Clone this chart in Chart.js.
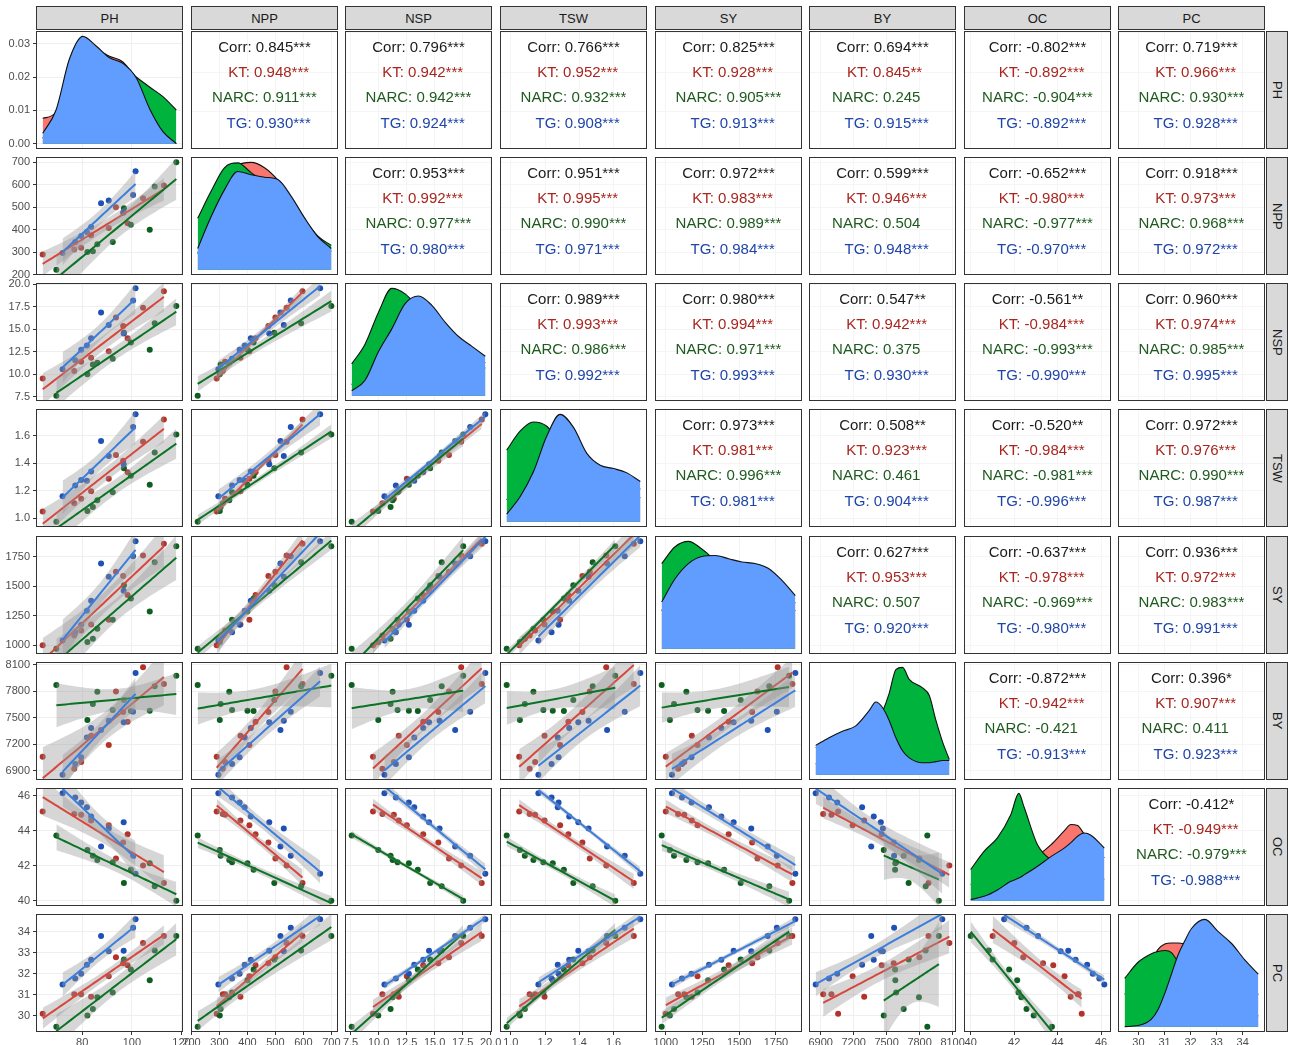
<!DOCTYPE html>
<html>
<head>
<meta charset="utf-8">
<title>Pairs plot</title>
<script src="https://cdn.jsdelivr.net/npm/chart.js@4.4.1/dist/chart.umd.min.js"></script>
<style>
html,body{margin:0;padding:0;background:#fff;}
body{position:relative;width:1290px;height:1045px;overflow:hidden;font-family:"Liberation Sans",Arial,sans-serif;}
.strip{position:absolute;box-sizing:border-box;background:#D9D9D9;border:1px solid #333;color:#1a1a1a;font-size:13px;display:flex;align-items:center;justify-content:center;}
.strip.v{writing-mode:vertical-rl;}
.frame{position:absolute;box-sizing:border-box;border:1px solid #333;pointer-events:none;z-index:10;}
canvas{position:absolute;display:block;}
</style>
</head>
<body>
<script>
// ---------------- DATA ----------------
const VARS = ['PH','NPP','NSP','TSW','SY','BY','OC','PC'];
const GROUPS = ['KT','NARC','TG'];

// KT observations
const PH_KT  = [64.1, 76.8, 79.6, 83.6, 90.7, 93.6, 96.5, 98.3, 104.5, 112.9];
const NPP_KT = [290, 312, 320, 375, 407, 500, 475, 429, 540, 597];
const NSP_KT = [9.50, 10.34, 11.36, 11.80, 12.52, 16.28, 15.33, 13.98, 17.37, 19.20];
const TSW_KT = [1.049, 1.110, 1.142, 1.197, 1.288, 1.461, 1.418, 1.336, 1.557, 1.718];
const SY_KT  = [1000, 1084, 1126, 1177, 1216, 1624, 1588, 1428, 1762, 1862];
const BY_KT  = [7059, 6923, 6998, 7296, 7191, 7798, 7564, 7455, 8070, 7881];
const OC_KT  = [45.11, 44.96, 44.93, 44.60, 44.32, 42.42, 43.33, 43.80, 42.01, 41.01];
const PC_KT  = [30.09, 31.02, 31.02, 30.90, 31.88, 32.79, 32.50, 32.40, 33.47, 33.81];

// NARC observations
const PH_NARC  = [69.6, 82.1, 84.3, 86.1, 92.3, 96.8, 99.6, 107.2, 109.2, 117.9];
const NPP_NARC = [222, 301, 304, 335, 345, 496, 422, 400, 592, 700];
const NSP_NARC = [7.60, 9.97, 11.07, 11.25, 11.69, 14.60, 13.50, 12.70, 15.63, 17.55];
const TSW_NARC = [0.976, 1.053, 1.082, 1.132, 1.190, 1.365, 1.310, 1.245, 1.478, 1.610];
const SY_NARC  = [972, 1028, 1056, 1140, 1216, 1510, 1397, 1288, 1705, 1840];
const BY_NARC  = [7870, 7474, 7655, 7794, 7587, 7700, 7577, 7579, 7855, 7975];
const OC_NARC  = [43.74, 42.90, 42.57, 42.33, 42.20, 41.01, 41.77, 42.14, 40.83, 40.00];
const PC_NARC  = [29.47, 30.00, 30.31, 30.88, 31.10, 32.68, 32.20, 31.69, 33.11, 33.81];

// TG observations
const PH_TG  = [72.1, 77.2, 79.6, 81.9, 83.6, 87.6, 90.7, 96.7, 100.5, 101.5];
const NPP_TG = [296, 345, 372, 390, 412, 518, 530, 478, 555, 660];
const NSP_TG = [10.52, 11.54, 12.70, 13.18, 13.98, 16.83, 15.44, 14.50, 18.17, 19.52];
const TSW_TG = [1.161, 1.238, 1.279, 1.274, 1.341, 1.562, 1.454, 1.394, 1.665, 1.756];
const SY_TG  = [1042, 1110, 1175, 1294, 1378, 1694, 1582, 1462, 1756, 1882];
const BY_TG  = [6855, 6976, 7051, 7277, 7383, 7360, 7466, 7447, 7568, 8006];
const OC_TG  = [46.15, 45.92, 45.62, 45.36, 44.83, 43.10, 44.14, 44.49, 42.57, 41.54];
const PC_TG  = [31.49, 31.77, 32.00, 32.43, 32.67, 33.81, 33.07, 33.10, 34.20, 34.60];

// Diagonal density curves.
// densAt_* = position along the variable's data range (0 = min, 1 = max).
// PH values are in density units (axis shown); the others are relative heights.
const densAt_PH = [0,0.1,0.2,0.3,0.4,0.5,0.6,0.7,0.8,0.9,1];
const dens_PH_KT   = [0.0076,0.0095,0.0250,0.0310,0.0285,0.0262,0.0245,0.0190,0.0095,0.0030,0.0000];
const dens_PH_NARC = [0.0016,0.0085,0.0240,0.0310,0.0280,0.0250,0.0235,0.0200,0.0170,0.0141,0.0101];
const dens_PH_TG   = [0.0031,0.0101,0.0254,0.0322,0.0293,0.0258,0.0241,0.0198,0.0105,0.0036,0.0000];

const densAt_NPP = [0,0.1,0.2,0.3,0.4,0.5,0.6,0.7,0.8,0.9,1];
const dens_NPP_KT   = [0.15,0.45,0.74,0.97,0.995,0.945,0.83,0.66,0.46,0.28,0.17];
const dens_NPP_NARC = [0.476,0.726,0.945,0.99,0.90,0.82,0.80,0.66,0.47,0.31,0.225];
const dens_NPP_TG   = [0.196,0.49,0.74,0.91,0.88,0.857,0.835,0.68,0.48,0.304,0.196];

const densAt_NSP = [0,0.1,0.2,0.3,0.4,0.5,0.6,0.7,0.8,0.9,1];
const dens_NSP_KT   = [0.10,0.25,0.50,0.70,0.78,0.80,0.74,0.60,0.48,0.38,0.30];
const dens_NSP_NARC = [0.29,0.47,0.76,0.98,0.93,0.80,0.65,0.52,0.42,0.32,0.25];
const dens_NSP_TG   = [0.044,0.14,0.40,0.61,0.84,0.91,0.825,0.67,0.54,0.45,0.36];

const densAt_TSW = [0,0.1,0.2,0.3,0.4,0.5,0.6,0.7,0.8,0.9,1];
const dens_TSW_KT   = [0.20,0.40,0.60,0.72,0.80,0.75,0.55,0.45,0.40,0.35,0.30];
const dens_TSW_NARC = [0.66,0.835,0.92,0.88,0.72,0.55,0.45,0.38,0.32,0.27,0.22];
const dens_TSW_TG   = [0.07,0.23,0.46,0.79,0.99,0.87,0.63,0.52,0.49,0.45,0.37];

const densAt_SY = [0,0.1,0.2,0.3,0.4,0.5,0.6,0.7,0.8,0.9,1];
const dens_SY_KT   = [0.35,0.55,0.70,0.76,0.78,0.76,0.74,0.70,0.64,0.55,0.42];
const dens_SY_NARC = [0.785,0.94,0.99,0.92,0.82,0.76,0.72,0.66,0.55,0.45,0.35];
const dens_SY_TG   = [0.43,0.645,0.785,0.85,0.86,0.83,0.80,0.785,0.74,0.63,0.49];

const densAt_BY = [0,0.1,0.2,0.3,0.4,0.45,0.5,0.55,0.6,0.65,0.7,0.8,0.85,0.9,0.95,1];
const dens_BY_KT   = [0.25,0.30,0.36,0.42,0.50,0.55,0.55,0.45,0.35,0.25,0.18,0.12,0.10,0.10,0.10,0.10];
const dens_BY_NARC = [0.10,0.12,0.16,0.22,0.35,0.45,0.58,0.75,0.97,0.99,0.88,0.80,0.73,0.50,0.30,0.14];
const dens_BY_TG   = [0.27,0.34,0.40,0.45,0.59,0.67,0.62,0.50,0.34,0.22,0.155,0.11,0.11,0.12,0.13,0.13];

const densAt_OC = [0,0.1,0.2,0.3,0.36,0.4,0.5,0.6,0.7,0.75,0.8,0.85,0.9,1];
const dens_OC_KT   = [0.15,0.20,0.25,0.30,0.33,0.35,0.42,0.52,0.65,0.71,0.70,0.62,0.55,0.40];
const dens_OC_NARC = [0.29,0.46,0.585,0.80,1.00,0.87,0.52,0.38,0.33,0.30,0.28,0.26,0.24,0.20];
const dens_OC_TG   = [0.01,0.04,0.10,0.18,0.21,0.24,0.32,0.41,0.49,0.54,0.60,0.63,0.61,0.49];

const densAt_PC = [0,0.1,0.2,0.25,0.3,0.35,0.4,0.45,0.5,0.6,0.7,0.8,0.9,1];
const dens_PC_KT   = [0.30,0.45,0.60,0.72,0.77,0.78,0.78,0.77,0.75,0.70,0.60,0.50,0.40,0.30];
const dens_PC_NARC = [0.45,0.60,0.68,0.70,0.71,0.69,0.60,0.50,0.40,0.30,0.25,0.20,0.15,0.10];
const dens_PC_TG   = [0.00,0.01,0.07,0.16,0.31,0.49,0.67,0.80,0.915,1.00,0.885,0.775,0.62,0.49];

// Tick labels
const ticks_PH  = ['80','100','120'];
const ticks_NPP = ['200','300','400','500','600','700'];
const ticks_NSP = ['7.5','10.0','12.5','15.0','17.5','20.0'];
const ticks_TSW = ['1.0','1.2','1.4','1.6'];
const ticks_SY  = ['1000','1250','1500','1750'];
const ticks_BY  = ['6900','7200','7500','7800','8100'];
const ticks_OC  = ['40','42','44','46'];
const ticks_PC  = ['30','31','32','33','34'];
const ticks_density = ['0.00','0.01','0.02','0.03'];

// Correlation texts, upper triangle in row-major order
const corrOverall = ['0.845***','0.796***','0.766***','0.825***','0.694***','-0.802***','0.719***',
 '0.953***','0.951***','0.972***','0.599***','-0.652***','0.918***',
 '0.989***','0.980***','0.547**','-0.561**','0.960***',
 '0.973***','0.508**','-0.520**','0.972***',
 '0.627***','-0.637***','0.936***',
 '-0.872***','0.396*',
 '-0.412*'];
const corrKT = ['0.948***','0.942***','0.952***','0.928***','0.845**','-0.892***','0.966***',
 '0.992***','0.995***','0.983***','0.946***','-0.980***','0.973***',
 '0.993***','0.994***','0.942***','-0.984***','0.974***',
 '0.981***','0.923***','-0.984***','0.976***',
 '0.953***','-0.978***','0.972***',
 '-0.942***','0.907***',
 '-0.949***'];
const corrNARC = ['0.911***','0.942***','0.932***','0.905***','0.245','-0.904***','0.930***',
 '0.977***','0.990***','0.989***','0.504','-0.977***','0.968***',
 '0.986***','0.971***','0.375','-0.993***','0.985***',
 '0.996***','0.461','-0.981***','0.990***',
 '0.507','-0.969***','0.983***',
 '-0.421','0.411',
 '-0.979***'];
const corrTG = ['0.930***','0.924***','0.908***','0.913***','0.915***','-0.892***','0.928***',
 '0.980***','0.971***','0.984***','0.948***','-0.970***','0.972***',
 '0.992***','0.993***','0.930***','-0.990***','0.995***',
 '0.981***','0.904***','-0.996***','0.987***',
 '0.920***','-0.980***','0.991***',
 '-0.913***','0.923***',
 '-0.988***'];

// ---------------- STYLE / LAYOUT ----------------
const FONT = '"Liberation Sans", Arial, sans-serif';
const POINT_COL = {KT:'#B3332B', NARC:'#0E5E20', TG:'#1F50B5'};
const LINE_COL  = {KT:'#D8473D', NARC:'#0B7424', TG:'#3B7FDE'};
const DENS_COL  = {KT:'#F8766D', NARC:'#00B33C', TG:'#619CFF'};
const TEXT_COL  = {KT:'#A8261F', NARC:'#1E5A1E', TG:'#1F45A8'};
const COL_LEFT = [36,191,345,500,655,809,964,1118];
const ROW_TOP  = [31,157,283,409,536,662,788,914];
const PANEL_W = 147, PANEL_H = 118;
const T_975_DF8 = 2.306; // 95% t quantile for the n=10 linear fits

const OBS = {
  PH:{KT:PH_KT,NARC:PH_NARC,TG:PH_TG}, NPP:{KT:NPP_KT,NARC:NPP_NARC,TG:NPP_TG},
  NSP:{KT:NSP_KT,NARC:NSP_NARC,TG:NSP_TG}, TSW:{KT:TSW_KT,NARC:TSW_NARC,TG:TSW_TG},
  SY:{KT:SY_KT,NARC:SY_NARC,TG:SY_TG}, BY:{KT:BY_KT,NARC:BY_NARC,TG:BY_TG},
  OC:{KT:OC_KT,NARC:OC_NARC,TG:OC_TG}, PC:{KT:PC_KT,NARC:PC_NARC,TG:PC_TG}
};
const DENS = {
  PH:{at:densAt_PH,KT:dens_PH_KT,NARC:dens_PH_NARC,TG:dens_PH_TG},
  NPP:{at:densAt_NPP,KT:dens_NPP_KT,NARC:dens_NPP_NARC,TG:dens_NPP_TG},
  NSP:{at:densAt_NSP,KT:dens_NSP_KT,NARC:dens_NSP_NARC,TG:dens_NSP_TG},
  TSW:{at:densAt_TSW,KT:dens_TSW_KT,NARC:dens_TSW_NARC,TG:dens_TSW_TG},
  SY:{at:densAt_SY,KT:dens_SY_KT,NARC:dens_SY_NARC,TG:dens_SY_TG},
  BY:{at:densAt_BY,KT:dens_BY_KT,NARC:dens_BY_NARC,TG:dens_BY_TG},
  OC:{at:densAt_OC,KT:dens_OC_KT,NARC:dens_OC_NARC,TG:dens_OC_TG},
  PC:{at:densAt_PC,KT:dens_PC_KT,NARC:dens_PC_NARC,TG:dens_PC_TG}
};
const TICKS = {PH:ticks_PH,NPP:ticks_NPP,NSP:ticks_NSP,TSW:ticks_TSW,SY:ticks_SY,BY:ticks_BY,OC:ticks_OC,PC:ticks_PC};

const RANGE = {};
VARS.forEach(v => {
  const all = GROUPS.flatMap(g => OBS[v][g]);
  const lo = Math.min(...all), hi = Math.max(...all), e = (hi - lo) * 0.05;
  RANGE[v] = {lo, hi, min: lo - e, max: hi + e};
});

function fitBand(xs, ys) {
  const n = xs.length;
  const mx = xs.reduce((a,b)=>a+b,0)/n, my = ys.reduce((a,b)=>a+b,0)/n;
  let sxx = 0, sxy = 0;
  for (let i=0;i<n;i++){ sxx += (xs[i]-mx)**2; sxy += (xs[i]-mx)*(ys[i]-my); }
  const b = sxy/sxx, a = my - b*mx;
  let sse = 0;
  for (let i=0;i<n;i++){ sse += (ys[i]-a-b*xs[i])**2; }
  const s = Math.sqrt(sse/(n-2));
  const lo = Math.min(...xs), hi = Math.max(...xs);
  const line = [], upper = [], lower = [];
  const steps = 40;
  for (let k=0;k<=steps;k++){
    const x = lo + (hi-lo)*k/steps;
    const yh = a + b*x;
    const se = s*Math.sqrt(1/n + (x-mx)**2/sxx);
    line.push({x, y: yh});
    upper.push({x, y: yh + T_975_DF8*se});
    lower.push({x, y: yh - T_975_DF8*se});
  }
  return {line, upper, lower};
}

const corrPlugin = {
  id: 'corrText',
  afterDraw(chart, args, opts) {
    if (!opts || !opts.lines) return;
    const ctx = chart.ctx, a = chart.chartArea, cx = (a.left + a.right) / 2;
    ctx.save();
    ctx.font = '15px ' + FONT;
    ctx.textAlign = 'left';
    ctx.textBaseline = 'middle';
    opts.lines.forEach((ln, i) => {
      const w = ctx.measureText(ln.text).width;
      ctx.fillStyle = ln.color;
      ctx.fillText(ln.text, cx - w / 2, a.top + 16.5 + 25.3 * i);
    });
    ctx.restore();
  }
};

function axis(isX, show, size, labels, min, max, gridColor) {
  const items = labels.map(s => ({v: parseFloat(s), s})).filter(o => o.v >= min && o.v <= max);
  return {
    type: 'linear', position: isX ? 'bottom' : 'left', min, max, display: true,
    border: {display: false},
    grid: {display: true, color: gridColor, lineWidth: 1, drawTicks: show, tickLength: 3, tickColor: '#333333', tickWidth: 1},
    ticks: {display: show, autoSkip: false, maxRotation: 0, minRotation: 0, padding: isX ? 1 : 3,
            color: '#4D4D4D', font: {family: FONT, size: 11},
            callback: (val, i) => items[i] ? items[i].s : ''},
    afterBuildTicks: s => { s.ticks = items.map(o => ({value: o.v})); },
    afterFit: s => {
      if (isX) s.height = size; else s.width = size;
      s.paddingLeft = 0; s.paddingRight = 0; s.paddingTop = 0; s.paddingBottom = 0;
    }
  };
}

function addDiv(cls, left, top, w, h, text) {
  const d = document.createElement('div');
  d.className = cls;
  Object.assign(d.style, {left: left+'px', top: top+'px', width: w+'px', height: h+'px'});
  if (text) d.textContent = text;
  document.body.appendChild(d);
  return d;
}

let pairIdx = 0;
const pairIndex = {};
for (let r=0;r<8;r++) for (let c=r+1;c<8;c++) pairIndex[r+'_'+c] = pairIdx++;

function makePanel(r, c) {
  const left = COL_LEFT[c], top = ROW_TOP[r];
  const isLeft = c === 0, isBottom = r === 7;
  const padL = isLeft ? left : 12, padR = 12, padT = 12;
  const padB = isBottom ? (1045 - top - PANEL_H) : 12;
  const W = PANEL_W + padL + padR, H = PANEL_H + padT + padB;
  const cv = document.createElement('canvas');
  cv.width = W; cv.height = H;
  Object.assign(cv.style, {left: (left - padL)+'px', top: (top - padT)+'px', width: W+'px', height: H+'px'});
  document.body.appendChild(cv);
  addDiv('frame', left, top, PANEL_W, PANEL_H);

  const xv = VARS[c], yv = VARS[r];
  const xr = RANGE[xv];
  let yMin, yMax, yLabels, yGrid = '#EFEFEF', xGrid = '#EFEFEF';
  const datasets = [];
  let textOpts = null;

  if (r === c) {
    const d = DENS[xv];
    const maxD = Math.max(...GROUPS.flatMap(g => d[g]));
    yMin = -0.05*maxD; yMax = 1.05*maxD;
    yLabels = (xv === 'PH') ? ticks_density : [];
    GROUPS.forEach((g, gi) => {
      datasets.push({
        data: d.at.map((f, i) => ({x: xr.lo + f*(xr.hi - xr.lo), y: d[g][i]})),
        showLine: true, pointRadius: 0, borderColor: '#111', borderWidth: 1.1,
        backgroundColor: DENS_COL[g], fill: 'origin', cubicInterpolationMode: 'monotone',
        order: 3 - gi
      });
    });
  } else if (r > c) {
    const yr = RANGE[yv];
    yMin = yr.min; yMax = yr.max; yLabels = TICKS[yv];
    GROUPS.forEach((g, gi) => {
      const xs = OBS[xv][g], ys = OBS[yv][g];
      datasets.push({
        data: xs.map((x, i) => ({x, y: ys[i]})), showLine: false,
        pointRadius: 3, pointBackgroundColor: POINT_COL[g], pointBorderWidth: 0,
        pointBorderColor: POINT_COL[g], order: 102 - gi
      });
    });
    GROUPS.forEach((g, gi) => {
      const fb = fitBand(OBS[xv][g], OBS[yv][g]);
      datasets.push({data: fb.upper, showLine: true, pointRadius: 0, borderWidth: 0, borderColor: 'rgba(0,0,0,0)',
        backgroundColor: 'rgba(153,153,153,0.4)', fill: '+1', tension: 0, order: 60 - 2*gi, clip: 0});
      datasets.push({data: fb.lower, showLine: true, pointRadius: 0, borderWidth: 0, borderColor: 'rgba(0,0,0,0)',
        fill: false, tension: 0, order: 60 - 2*gi, clip: 0});
      datasets.push({data: fb.line, showLine: true, pointRadius: 0, borderWidth: 2, borderColor: LINE_COL[g],
        fill: false, tension: 0, order: 59 - 2*gi, clip: 0});
    });
  } else {
    const yr = RANGE[yv];
    yMin = yr.min; yMax = yr.max; yLabels = TICKS[yv];
    yGrid = '#F5F5F5'; xGrid = '#F5F5F5';
    const k = pairIndex[r+'_'+c];
    const vals = {KT: corrKT[k], NARC: corrNARC[k], TG: corrTG[k]};
    const keyLen = Math.max(...GROUPS.map(g => g.length));
    const valLen = Math.max(...GROUPS.map(g => vals[g].length));
    const lines = [{text: 'Corr: ' + corrOverall[k], color: '#1A1A1A'}];
    GROUPS.forEach(g => {
      lines.push({text: g.padStart(keyLen, ' ') + ': ' + vals[g].padEnd(valLen, ' '), color: TEXT_COL[g]});
    });
    textOpts = {lines};
  }

  new Chart(cv, {
    type: 'line',
    data: {datasets},
    options: {
      responsive: false, animation: false, devicePixelRatio: 1, events: [],
      layout: {autoPadding: false, padding: {left: isLeft ? 0 : padL, right: padR, top: padT, bottom: isBottom ? 0 : padB}},
      plugins: {legend: {display: false}, tooltip: {enabled: false}, title: {display: false},
                corrText: textOpts || {}},
      scales: {
        x: axis(true, isBottom, isBottom ? padB : 0, TICKS[xv], xr.min, xr.max, (r===c && xv!=='PH') ? '#F3F3F3' : xGrid),
        y: axis(false, isLeft, isLeft ? padL : 0, yLabels, yMin, yMax, yGrid)
      }
    },
    plugins: [corrPlugin]
  });
}

// strips
VARS.forEach((v, c) => addDiv('strip', COL_LEFT[c], 6, PANEL_W, 24, v));
VARS.forEach((v, r) => addDiv('strip v', 1266, ROW_TOP[r], 22, PANEL_H, v));

for (let r=0;r<8;r++) for (let c=0;c<8;c++) makePanel(r, c);
</script>
</body>
</html>
